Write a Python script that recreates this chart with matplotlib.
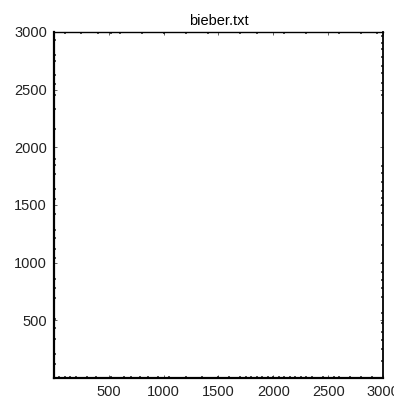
import matplotlib
matplotlib.use("Agg")
from matplotlib import pyplot as plt

# points hugging the four edges of the domain
left_x = 12
left_y = [2930, 2800, 2750, 2630, 2550, 2450, 2330, 2160, 1900, 1850, 1770,
          1640, 1550, 1420, 1280, 1210, 1120, 1040, 860, 780, 690, 510, 430,
          340, 210, 120]
right_x = 2988
right_y = [2960, 2900, 2850, 2780, 2700, 2640, 2560, 2450, 2300, 1840, 1780,
           1700, 1620, 1560, 1500, 1430, 1330, 1150, 1000, 920, 850, 780, 700,
           560, 480, 400, 330, 250, 150]
bottom_y = 12
bottom_x = [50, 100, 150, 200, 300, 380, 520, 640, 700, 780, 860, 950, 1050,
            1200, 1350, 1500, 1600, 1700, 1750, 1800, 1850, 1900, 1950, 2000,
            2050, 2100, 2150, 2200, 2250, 2300, 2350, 2450, 2550, 2600, 2700,
            2800, 2900]
top_y = 2988
top_x = [100, 250, 400, 520, 600, 800, 1000, 1200, 1400, 1700, 1850, 2100,
         2300, 2600, 2800, 2950]

ticks = [500, 1000, 1500, 2000, 2500, 3000]

plt.rcParams['font.family'] = ['Liberation Sans', 'DejaVu Sans']
fig = plt.figure(figsize=(3.94, 3.98), dpi=100)
ax = fig.add_axes([0.137, 0.050, 0.835, 0.870])

style = dict(s=1.5, c='#555555', marker='s', linewidths=0)
ax.scatter([left_x] * len(left_y), left_y, **style)
ax.scatter([right_x] * len(right_y), right_y, **style)
ax.scatter(bottom_x, [bottom_y] * len(bottom_x), **style)
ax.scatter(top_x, [top_y] * len(top_x), **style)

ax.set_xlim(0, 3000)
ax.set_ylim(0, 3000)
ax.set_xticks(ticks)
ax.set_yticks(ticks)
ax.tick_params(direction='in', length=2.5, width=0.5, labelsize=10.5,
               top=True, right=True, pad=5, colors='#222222')
ax.spines['left'].set_linewidth(1.6)
ax.spines['bottom'].set_linewidth(1.6)
ax.spines['right'].set_linewidth(1.3)
ax.spines['top'].set_linewidth(1.0)
ax.set_title('bieber.txt', fontsize=10.5, pad=5)

fig.savefig('out.png', dpi=100)
